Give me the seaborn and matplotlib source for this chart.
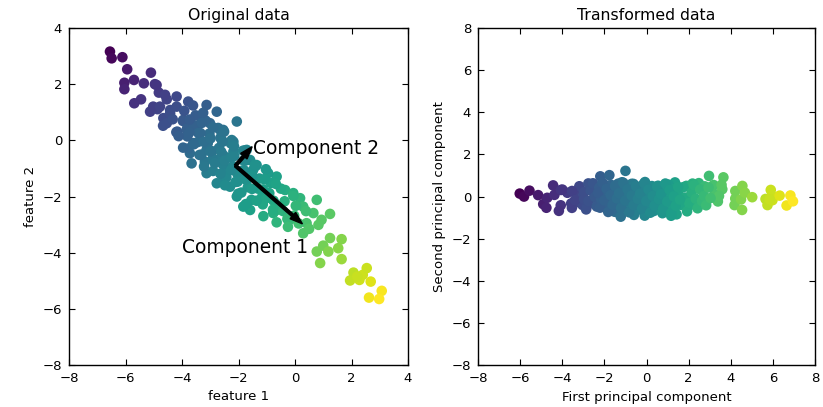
import numpy as np
import matplotlib
matplotlib.use("Agg")
import matplotlib.pyplot as plt
import seaborn as sns

# points read off the "Original data" panel (feature 1, feature 2)
# outer / sparse points
edge_f1 = [-6.55, -6.49, -6.11, -5.94, -6.04, -6.04, -5.70, -5.35, -5.10, -4.96,
           -4.82, -5.45, -5.69, -5.13, -4.54, -4.87, -4.66, -4.42, -4.19, -4.54,
           -4.19, -4.17, -4.90, -4.60, -5.02, -4.78,
           -3.78, -3.13, -2.77, -2.06, -3.36, -3.83, -3.60, -3.72, -3.66, -3.13,
           -2.65, -2.18, -4.42, -3.95, -3.48, -3.01, -2.54, -2.59, -2.24, -2.18,
           -1.71, -3.19, -2.77, -2.42, -1.59, -1.48, -3.30,
           -3.13, -2.77, -2.54, -1.59, -1.00, -0.65, -1.36, -0.35, 0.18, 0.41,
           -0.18, -0.77, -2.06, -2.30, -1.83,
           -0.06, 0.29, 0.77, 1.24, 0.65, 0.94, 0.83, 0.29, 1.24, 1.65,
           1.00, 0.77, 1.18, 1.53, 1.65, 0.89, -0.65, 0.50,
           2.07, 1.95, 2.28, 2.40, 2.54, 2.68, 2.62, 3.07, 2.98, 2.20]
edge_f2 = [3.16, 2.92, 2.96, 2.53, 2.05, 1.82, 2.15, 2.03, 2.41, 2.00,
           1.70, 1.46, 1.32, 1.02, 1.46, 1.11, 0.79, 1.08, 1.56, 0.61,
           1.20, 0.31, 1.97, 1.62, 1.20, 1.20,
           1.38, 1.26, 1.02, 0.67, 0.84, 0.37, -0.10, -0.46, -0.82, -0.34,
           0.37, -0.05, 0.96, 0.73, 0.49, 0.61, 0.37, 0.01, 0.01, -0.40,
           -0.34, -0.76, -0.70, -1.05, -0.70, -1.05, 0.90,
           -1.17, -1.53, -1.41, -2.48, -1.88, -1.29, -0.88, -1.77, -2.06, -2.95,
           -2.83, -2.59, -2.00, -1.65, -2.36,
           -1.88, -2.36, -2.12, -2.62, -2.59, -2.83, -3.01, -3.31, -3.48, -3.52,
           -3.75, -3.96, -3.96, -3.84, -4.23, -4.37, -2.48, -3.15,
           -4.71, -4.99, -4.97, -4.79, -4.55, -5.03, -5.60, -5.36, -5.65, -4.85]

# dense core of the cloud
core_f1 = [-4.67, -4.33, -3.92, -3.61, -3.97, -4.20, -3.52, -3.82, -3.58, -3.81,
           -3.16, -3.42, -3.78, -3.44, -3.03, -2.72, -3.09, -3.31, -2.64, -2.93,
           -2.69, -2.92, -2.27, -2.53, -2.90, -2.55, -2.15, -1.84, -2.20, -2.43,
           -1.75, -2.04, -1.80, -2.03, -1.39, -1.65, -2.01, -1.67, -1.26, -0.95,
           -1.31, -1.54, -0.86, -1.16, -0.91, -1.14, -0.50, -0.76, -1.12, -0.78,
           -0.37, -0.06, -0.42, -0.65, 0.03, -0.27, -0.03, -0.25, 0.39, 0.13,
           -3.73, -4.12, -3.25, -3.74, -3.30, -3.96, -3.35, -3.58, -2.90, -3.23,
           -2.99, -3.38, -2.51, -3.00, -2.56, -3.22, -2.61, -2.84, -2.16, -2.49,
           -2.25, -2.64, -1.77, -2.26, -1.82, -2.48, -1.87, -2.10, -1.42, -1.75,
           -1.51, -1.90, -1.03, -1.52, -1.08, -1.74, -1.13, -1.36, -0.68, -1.01]
core_f2 = [0.52, 0.75, 1.05, 1.24, 0.69, 0.29, 0.89, 0.42, 0.54, 0.14,
           0.70, 0.26, -0.29, -0.06, 0.24, 0.44, -0.11, -0.51, 0.09, -0.39,
           -0.27, -0.67, -0.11, -0.54, -1.09, -0.86, -0.56, -0.37, -0.92, -1.32,
           -0.72, -1.19, -1.07, -1.47, -0.91, -1.35, -1.90, -1.67, -1.36, -1.17,
           -1.72, -2.12, -1.52, -2.00, -1.88, -2.28, -1.72, -2.15, -2.70, -2.47,
           -2.17, -1.98, -2.52, -2.92, -2.33, -2.80, -2.68, -3.08, -2.52, -2.96,
           0.74, 0.15, 0.98, 0.28, 0.62, -0.26, 0.26, -0.14, 0.46, -0.05,
           0.07, -0.52, 0.31, -0.39, -0.05, -0.93, -0.41, -0.81, -0.21, -0.72,
           -0.60, -1.19, -0.36, -1.06, -0.72, -1.60, -1.08, -1.48, -0.88, -1.39,
           -1.27, -1.86, -1.03, -1.73, -1.39, -2.27, -1.75, -2.15, -1.55, -2.06]

X = np.column_stack([edge_f1 + core_f1, edge_f2 + core_f2])

# PCA via SVD
mean = X.mean(axis=0)
_, _, comps = np.linalg.svd(X - mean, full_matrices=False)
if comps[0, 0] < 0:
    comps[0] *= -1
if comps[1, 1] < 0:
    comps[1] *= -1
X_pca = (X - mean) @ comps.T
S = X_pca.std(axis=0)

sns.set_style("white")
plt.rcParams.update({
    "font.family": ["DejaVu Sans"],
    "text.color": "black",
    "axes.labelcolor": "black",
    "xtick.color": "black",
    "ytick.color": "black",
    "axes.edgecolor": "black",
    "axes.linewidth": 1.0,
    "xtick.direction": "in",
    "ytick.direction": "in",
    "xtick.top": True,
    "ytick.right": True,
    "xtick.bottom": True,
    "ytick.left": True,
    "xtick.major.size": 4.5,
    "ytick.major.size": 4.5,
    "xtick.labelsize": 9.5,
    "ytick.labelsize": 9.5,
    "xtick.major.pad": 5,
    "ytick.major.pad": 5,
})

fig = plt.figure(figsize=(8.23, 4.07), dpi=100)
ax1 = fig.add_axes([69 / 823, 1 - 365 / 407, 339 / 823, 337 / 407])
ax2 = fig.add_axes([478 / 823, 1 - 365 / 407, 337 / 823, 337 / 407])

# Original data
sns.scatterplot(x=X[:, 0], y=X[:, 1], hue=X_pca[:, 0], palette="viridis",
                s=58, linewidth=0, legend=False, ax=ax1)
for k in range(2):
    ax1.arrow(mean[0], mean[1], S[k] * comps[k, 0], S[k] * comps[k, 1],
              width=.1, head_width=.3, color="k", zorder=3)
ax1.text(-1.5, -0.5, "Component 2", size=13.4)
ax1.text(-4, -4, "Component 1", size=13.4)
ax1.set_xlim(-8, 4)
ax1.set_ylim(-8, 4)
ax1.set_xticks(range(-8, 5, 2))
ax1.set_yticks(range(-8, 5, 2))
ax1.set_title("Original data", fontsize=11.3)
ax1.set_xlabel("feature 1", fontsize=9.5)
ax1.set_ylabel("feature 2", fontsize=9.5)

# Transformed data
sns.scatterplot(x=X_pca[:, 0], y=X_pca[:, 1], hue=X_pca[:, 0], palette="viridis",
                s=58, linewidth=0, legend=False, ax=ax2)
ax2.set_xlim(-8, 8)
ax2.set_ylim(-8, 8)
ax2.set_xticks(range(-8, 9, 2))
ax2.set_yticks(range(-8, 9, 2))
ax2.set_title("Transformed data", fontsize=11.3)
ax2.set_xlabel("First principal component", fontsize=9.5)
ax2.set_ylabel("Second principal component", fontsize=9.5)

fig.savefig("out.png", dpi=100)
